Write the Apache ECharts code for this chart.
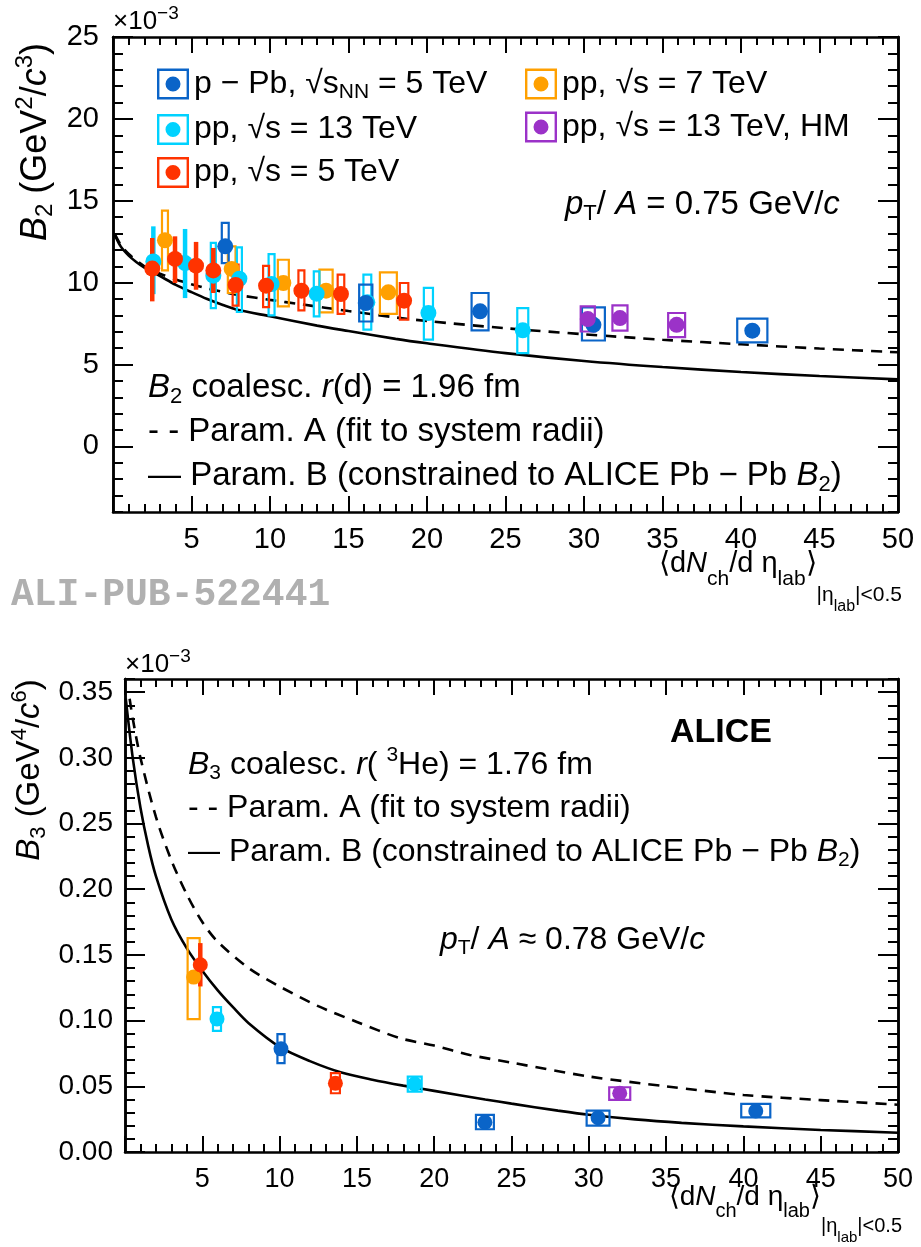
<!DOCTYPE html>
<html><head><meta charset="utf-8">
<script src="https://cdn.jsdelivr.net/npm/echarts@6/dist/echarts.min.js"></script>
<style>html,body{margin:0;padding:0;background:#fff}#c{width:921px;height:1247px}</style>
</head><body><div id="c"></div>
<script>
// ================= DATA =================
// Top panel: B2 (x10^-3) vs <dNch/deta>
const b2_ppb_x = [7.15, 16.1, 23.38, 30.6, 40.72];
const b2_ppb_y = [12.22, 8.76, 8.25, 7.43, 7.07];
const b2_ppb_sysLo = [11.20, 7.63, 7.09, 6.47, 6.35];
const b2_ppb_sysHi = [13.65, 9.88, 9.37, 8.49, 7.80];
const b2_ppb_dx = [0.22, 0.42, 0.54, 0.73, 0.96];
const b2_ppb_statLo = [null, null, null, null, null];
const b2_ppb_statHi = [null, null, null, null, null];

const b2_pp13_x = [2.57, 4.59, 6.39, 8.05, 10.1, 12.97, 16.2, 20.09, 26.1];
const b2_pp13_y = [11.30, 11.20, 10.43, 10.24, 9.92, 9.33, 8.80, 8.15, 7.09];
const b2_pp13_sysLo = [null, null, 8.45, 8.21, 8.00, 7.94, 7.13, 6.52, 5.70];
const b2_pp13_sysHi = [null, null, 12.43, 12.16, 11.75, 10.69, 10.49, 9.68, 8.45];
const b2_pp13_dx = [0, 0, 0.16, 0.16, 0.19, 0.18, 0.25, 0.29, 0.35];
const b2_pp13_statLo = [9.3, 9.06, null, null, null, null, null, null, null];
const b2_pp13_statHi = [13.44, 13.28, null, null, null, null, null, null, null];

const b2_pp5_x = [2.5, 3.95, 5.29, 6.39, 7.81, 9.75, 12.0, 14.52, 18.54];
const b2_pp5_y = [10.86, 11.45, 11.04, 10.75, 9.86, 9.82, 9.51, 9.31, 8.90];
const b2_pp5_sysLo = [null, null, null, null, 8.60, 8.51, 8.31, 8.10, 7.74];
const b2_pp5_sysHi = [null, null, null, null, 11.10, 11.03, 10.75, 10.49, 9.98];
const b2_pp5_dx = [0, 0, 0, 0, 0.19, 0.19, 0.19, 0.21, 0.27];
const b2_pp5_statLo = [8.86, 9.98, 9.57, 9.37, null, null, null, null, null];
const b2_pp5_statHi = [12.73, 12.83, 12.49, 12.12, null, null, null, null, null];

const b2_pp7_x = [3.31, 7.56, 10.85, 13.57, 17.54];
const b2_pp7_y = [12.59, 10.84, 9.98, 9.51, 9.41];
const b2_pp7_sysLo = [10.75, 9.37, 8.55, 8.19, 8.10];
const b2_pp7_sysHi = [14.40, 12.22, 11.40, 10.80, 10.63];
const b2_pp7_dx = [0.19, 0.245, 0.35, 0.42, 0.54];

const b2_hm_x = [30.24, 32.29, 35.9];
const b2_hm_y = [7.78, 7.84, 7.43];
const b2_hm_sysLo = [7.02, 7.07, 6.68];
const b2_hm_sysHi = [8.55, 8.61, 8.15];
const b2_hm_dx = [0.45, 0.48, 0.54];

// Top panel model curves
const b2_A_x = [0.1, 0.5, 1, 2, 3, 4, 5, 6, 8, 10, 12, 15, 18, 20, 25, 30, 35, 40, 45, 50];
const b2_A_y = [13.0, 12.3, 11.75, 11.0, 10.55, 10.2, 9.9, 9.65, 9.25, 8.95, 8.68, 8.27, 7.88, 7.66, 7.22, 6.85, 6.52, 6.24, 5.98, 5.75];
const b2_B_x = [0.1, 0.5, 1, 1.5, 2, 3, 4, 5, 6, 7, 8, 10, 13, 15, 18, 20, 25, 30, 35, 40, 45, 50];
const b2_B_y = [12.95, 12.2, 11.65, 11.25, 10.92, 10.4, 9.87, 9.42, 9.0, 8.64, 8.33, 7.95, 7.38, 7.05, 6.57, 6.3, 5.7, 5.22, 4.85, 4.55, 4.3, 4.1];

// Bottom panel: B3 (x10^-3)
const b3_ppb_x = [10.09, 23.28, 30.6, 40.8];
const b3_ppb_y = [0.0785, 0.0226, 0.0261, 0.0312];
const b3_ppb_sysLo = [0.0676, 0.0173, 0.0200, 0.0264];
const b3_ppb_sysHi = [0.0897, 0.0282, 0.0315, 0.0366];
const b3_ppb_dx = [0.23, 0.58, 0.74, 0.94];

const b3_pp13_x = [5.95, 18.74];
const b3_pp13_y = [0.1013, 0.0518];
const b3_pp13_sysLo = [0.0922, 0.0460];
const b3_pp13_sysHi = [0.1102, 0.0574];
const b3_pp13_dx = [0.26, 0.45];

const b3_pp5_x = [4.87, 13.61];
const b3_pp5_y = [0.1425, 0.0523];
const b3_pp5_sysLo = [null, 0.0447];
const b3_pp5_sysHi = [null, 0.0600];
const b3_pp5_dx = [0, 0.29];
const b3_pp5_statLo = [0.126, null];
const b3_pp5_statHi = [0.159, null];

const b3_pp7_x = [4.44];
const b3_pp7_y = [0.1331];
const b3_pp7_sysLo = [0.1011];
const b3_pp7_sysHi = [0.1628];
const b3_pp7_dx = [0.39];

const b3_hm_x = [32.0];
const b3_hm_y = [0.0447];
const b3_hm_sysLo = [0.0396];
const b3_hm_sysHi = [0.0493];
const b3_hm_dx = [0.68];

const b3_A_x = [0.3, 0.5, 1, 2, 3, 4, 5, 6, 8, 10, 12.5, 15, 17.8, 20, 22.3, 25, 30, 35, 40, 45, 50];
const b3_A_y = [0.345, 0.33, 0.30, 0.255, 0.222, 0.196, 0.175, 0.16, 0.14, 0.126, 0.111, 0.099, 0.0866, 0.081, 0.0739, 0.068, 0.0575, 0.05, 0.0434, 0.0395, 0.036];
const b3_B_x = [0.05, 0.5, 1, 1.5, 2, 3, 4, 5, 6, 7, 8, 10, 12, 14, 16, 18, 20, 23.3, 25, 28, 30, 33, 36, 40, 45, 50];
const b3_B_y = [0.345, 0.30, 0.262, 0.233, 0.21, 0.177, 0.155, 0.138, 0.123, 0.11, 0.098, 0.080, 0.069, 0.0605, 0.055, 0.0505, 0.0465, 0.040, 0.0368, 0.0315, 0.0283, 0.0248, 0.0222, 0.0195, 0.0168, 0.0147];

// tick values
const b2_yMajor = [0, 5, 10, 15, 20, 25];
const b3_yMajor = [0, 0.05, 0.10, 0.15, 0.20, 0.25, 0.30, 0.35];

// ================= STYLE =================
const F = 'Liberation Sans';
const COL = {ppb: '#0a64c8', pp13: '#00d2ff', pp5: '#ff3300', pp7: '#ffa000', hm: '#9b32c8'};

function rich(base, sub, o) {
  o = o || {};
  const ps = o.sub != null ? o.sub : Math.round(base * 0.5);
  return {
    n: {fontSize: base, fontFamily: F, color: '#000'},
    i: {fontSize: base, fontFamily: F, fontStyle: 'italic', color: '#000'},
    b: {fontSize: base, fontFamily: F, fontWeight: 'bold', color: '#000'},
    sub: {fontSize: sub, fontFamily: F, color: '#000', padding: [ps, 0, 0, 0]},
    sup: {fontSize: sub, fontFamily: F, color: '#000', padding: [0, 0, Math.round(base * 0.62), 0]},
    sub2: {fontSize: sub, fontFamily: F, color: '#000', padding: [o.sub2 || 0, 0, 0, 0]},
    ssub2: {fontSize: Math.round(sub * 0.75), fontFamily: F, color: '#000', padding: [o.ssub2 || 0, 0, 0, 0]}
  };
}

function range(a, b, s) { const r = []; for (let v = a; v <= b + 1e-9; v += s) r.push(+v.toFixed(4)); return r; }

// ================= SERIES =================
const series = [];
function addSet(g, name, color, xs, ys, sLo, sHi, dx, tLo, tHi, msize) {
  const xi = g === 0 ? 0 : 2, yi = g === 0 ? 0 : 4;
  const boxes = [];
  xs.forEach((x, k) => { if (sLo && sLo[k] != null) boxes.push([x, sLo[k], sHi[k], dx[k]]); });
  series.push({
    type: 'custom', name, xAxisIndex: xi, yAxisIndex: yi, z: 3, silent: true,
    itemStyle: {color},
    data: boxes, encode: {x: 0, y: [1, 2]},
    renderItem(p, api) {
      const x = api.value(0), l = api.value(1), h = api.value(2), d = api.value(3);
      const a = api.coord([x - d, h]), b = api.coord([x + d, l]);
      return {type: 'rect', shape: {x: a[0], y: a[1], width: b[0] - a[0], height: b[1] - a[1]},
        style: {fill: 'none', stroke: color, lineWidth: 2.2}};
    }
  });
  const bars = [];
  xs.forEach((x, k) => { if (tLo && tLo[k] != null) bars.push([x, tLo[k], tHi[k]]); });
  series.push({
    type: 'custom', name, xAxisIndex: xi, yAxisIndex: yi, z: 4, silent: true,
    itemStyle: {color},
    data: bars, encode: {x: 0, y: [1, 2]},
    renderItem(p, api) {
      const a = api.coord([api.value(0), api.value(2)]), b = api.coord([api.value(0), api.value(1)]);
      return {type: 'line', shape: {x1: a[0], y1: a[1], x2: b[0], y2: b[1]},
        style: {stroke: color, lineWidth: 4.5}};
    }
  });
  series.push({
    type: 'scatter', name, xAxisIndex: xi, yAxisIndex: yi, z: 5, silent: true,
    symbol: 'circle', symbolSize: msize, itemStyle: {color, opacity: 1},
    data: xs.map((x, k) => [x, ys[k]])
  });
}
function addCurve(g, xs, ys, dashed) {
  series.push({
    type: 'line', xAxisIndex: g === 0 ? 0 : 2, yAxisIndex: g === 0 ? 0 : 4, z: 2, silent: true,
    showSymbol: false, smooth: 0.3,
    lineStyle: {color: '#000', width: 2.6, type: dashed ? [11, 8] : 'solid'},
    data: xs.map((x, k) => [x, ys[k]])
  });
}
addCurve(0, b2_A_x, b2_A_y, true);
addCurve(0, b2_B_x, b2_B_y, false);
addSet(0, 'pp7', COL.pp7, b2_pp7_x, b2_pp7_y, b2_pp7_sysLo, b2_pp7_sysHi, b2_pp7_dx, null, null, 16);
addSet(0, 'pp13', COL.pp13, b2_pp13_x, b2_pp13_y, b2_pp13_sysLo, b2_pp13_sysHi, b2_pp13_dx, b2_pp13_statLo, b2_pp13_statHi, 16);
addSet(0, 'pPb', COL.ppb, b2_ppb_x, b2_ppb_y, b2_ppb_sysLo, b2_ppb_sysHi, b2_ppb_dx, b2_ppb_statLo, b2_ppb_statHi, 16);
addSet(0, 'pp5', COL.pp5, b2_pp5_x, b2_pp5_y, b2_pp5_sysLo, b2_pp5_sysHi, b2_pp5_dx, b2_pp5_statLo, b2_pp5_statHi, 16);
addSet(0, 'ppHM', COL.hm, b2_hm_x, b2_hm_y, b2_hm_sysLo, b2_hm_sysHi, b2_hm_dx, null, null, 16);

addCurve(1, b3_A_x, b3_A_y, true);
addCurve(1, b3_B_x, b3_B_y, false);
addSet(1, 'pp7', COL.pp7, b3_pp7_x, b3_pp7_y, b3_pp7_sysLo, b3_pp7_sysHi, b3_pp7_dx, null, null, 15);
addSet(1, 'pp13', COL.pp13, b3_pp13_x, b3_pp13_y, b3_pp13_sysLo, b3_pp13_sysHi, b3_pp13_dx, null, null, 15);
addSet(1, 'pPb', COL.ppb, b3_ppb_x, b3_ppb_y, b3_ppb_sysLo, b3_ppb_sysHi, b3_ppb_dx, null, null, 15);
addSet(1, 'pp5', COL.pp5, b3_pp5_x, b3_pp5_y, b3_pp5_sysLo, b3_pp5_sysHi, b3_pp5_dx, b3_pp5_statLo, b3_pp5_statHi, 15);
addSet(1, 'ppHM', COL.hm, b3_hm_x, b3_hm_y, b3_hm_sysLo, b3_hm_sysHi, b3_hm_dx, null, null, 15);

// ================= AXES =================
const AX = {color: '#000', width: 2.5};
function xAx(g, pos, fs, margin) {
  return {
    type: 'value', gridIndex: g, min: 0, max: 50, interval: 5, position: pos,
    axisLine: {show: true, onZero: false, lineStyle: AX},
    axisTick: {show: true, inside: true, length: 16, lineStyle: {color: '#000', width: 2}},
    minorTick: {show: true, splitNumber: 5, length: 8, lineStyle: {color: '#000', width: 2}},
    splitLine: {show: false}, minorSplitLine: {show: false},
    axisLabel: {show: pos === 'bottom', fontSize: fs, fontFamily: F, color: '#000', margin,
      formatter: v => (v === 0 ? '' : String(v))}
  };
}
function yAx(g, pos, min, max, ticks, len, showLabel, fs, margin, fmt) {
  return {
    type: 'value', gridIndex: g, min, max, position: pos,
    axisLine: {show: true, onZero: false, lineStyle: AX},
    axisTick: {show: true, inside: true, length: len, customValues: ticks, lineStyle: {color: '#000', width: 2}},
    splitLine: {show: false},
    axisLabel: {show: showLabel, customValues: ticks, fontSize: fs, fontFamily: F, color: '#000', margin, formatter: fmt}
  };
}
const b2Minor = range(-4, 25, 1);
const b3Minor = range(0, 0.36, 0.01);
const f2 = v => String(Math.round(v));
const f3 = v => v.toFixed(2);

const xAxis = [xAx(0, 'bottom', 29, 13), xAx(0, 'top', 29, 13), xAx(1, 'bottom', 27, 14), xAx(1, 'top', 27, 14)];
const yAxis = [
  yAx(0, 'left', -4, 25, b2Minor, 10, false, 29, 14, f2),
  yAx(0, 'left', -4, 25, b2_yMajor, 20, true, 29, 14, f2),
  yAx(0, 'right', -4, 25, b2Minor, 10, false, 29, 14, f2),
  yAx(0, 'right', -4, 25, b2_yMajor, 20, false, 29, 14, f2),
  yAx(1, 'left', 0, 0.36, b3Minor, 10, false, 28, 12, f3),
  yAx(1, 'left', 0, 0.36, b3_yMajor, 20, true, 28, 12, f3),
  yAx(1, 'right', 0, 0.36, b3Minor, 10, false, 28, 12, f3),
  yAx(1, 'right', 0, 0.36, b3_yMajor, 20, false, 28, 12, f3)
];

// ================= LEGEND =================
const ICON = 'path://M0,0H32V31H0Z M2.4,2.4V28.6H29.6V2.4Z M16,8A7.5,7.5,0,1,0,16,23A7.5,7.5,0,1,0,16,8Z';
const LEG = {
  pPb: '{n|p − Pb, √s}{sub|NN}{n| = 5 TeV}',
  pp13: '{n|pp, √s = 13 TeV}',
  pp5: '{n|pp, √s = 5 TeV}',
  pp7: '{n|pp, √s = 7 TeV}',
  ppHM: '{n|pp, √s = 13 TeV, HM}'
};
const RL = rich(32, 21);
function legend(left, names) {
  return {
    left, top: 68, orient: 'vertical', itemWidth: 32, itemHeight: 31, itemGap: 11, icon: ICON,
    selectedMode: false, padding: 0,
    data: names.map(n => ({name: n, itemStyle: {color: COL[{pPb:'ppb',pp13:'pp13',pp5:'pp5',pp7:'pp7',ppHM:'hm'}[n]]}})),
    formatter: n => LEG[n],
    textStyle: {fontSize: 32, fontFamily: F, color: '#000', rich: RL}
  };
}

// ================= TEXT =================
function T(x, y, text, r, align, rot) {
  return {type: 'text', x, y, rotation: rot || 0, silent: true,
    style: {text, rich: r, align: align || 'left', verticalAlign: 'middle', fill: '#000'}};
}
const RT = rich(33, 22);
const RB = rich(32, 21);
const RX1 = rich(29, 21, {sub: 30, sub2: 62, ssub2: 86});
const RX2 = rich(28, 20, {sub: 28, sub2: 58, ssub2: 82});
const RE1 = rich(26, 19);
const RY1 = rich(36, 24);
const RY2 = rich(33, 22);
const xTitle = '{n|⟨d}{i|N}{sub|ch}{n|/d η}{sub|lab}{n|⟩}{sub2||η}{ssub2|lab}{sub2||<0.5}';

const graphic = [
  T(113, 22, '{n|×10}{sup|−3}', RE1),
  T(125, 665, '{n|×10}{sup|−3}', RE1),
  T(36, 142, '{i|B}{sub|2}{n| (GeV}{sup|2}{n|/}{i|c}{sup|3}{n|)}', RY1, 'center', Math.PI / 2),
  T(30, 770, '{i|B}{sub|3}{n| (GeV}{sup|4}{n|/}{i|c}{sup|6}{n|)}', RY2, 'center', Math.PI / 2),
  T(902, 564, xTitle, RX1, 'right'),
  T(902, 1197, xTitle, RX2, 'right'),
  T(565, 205, '{i|p}{sub|T}{n|/ }{i|A}{n| = 0.75 GeV/}{i|c}', RT),
  T(148, 388, '{i|B}{sub|2}{n| coalesc. }{i|r}{n|(d) = 1.96 fm}', RT),
  T(148, 432, '{n|- - Param. A (fit to system radii)}', RT),
  T(148, 476, '{n|— Param. B (constrained to ALICE Pb − Pb }{i|B}{sub|2}{n|)}', RT),
  T(188, 765, '{i|B}{sub|3}{n| coalesc. }{i|r}{n|( }{sup|3}{n|He) = 1.76 fm}', RB),
  T(188, 808, '{n|- - Param. A (fit to system radii)}', RB),
  T(188, 852, '{n|— Param. B (constrained to ALICE Pb − Pb }{i|B}{sub|2}{n|)}', RB),
  T(440, 940, '{i|p}{sub|T}{n|/ }{i|A}{n| ≈ 0.78 GeV/}{i|c}', RB),
  T(670, 733, '{b|ALICE}', rich(34, 22)),
  {type: 'text', x: 11, y: 595, silent: true,
    style: {text: 'ALI-PUB-522441', font: 'bold 38px "Liberation Mono"', fill: '#b0b0b0', align: 'left', verticalAlign: 'middle'}}
];

const chart = echarts.init(document.getElementById('c'), null, {renderer: 'canvas'});
chart.setOption({
  animation: false,
  backgroundColor: '#fff',
  grid: [
    {left: 113, top: 37, right: 23, bottom: 735, containLabel: false},
    {left: 125, top: 679, right: 23, bottom: 95, containLabel: false}
  ],
  xAxis, yAxis,
  legend: [legend(157, ['pPb', 'pp13', 'pp5']), legend(525, ['pp7', 'ppHM'])],
  series, graphic
});
</script></body></html>
